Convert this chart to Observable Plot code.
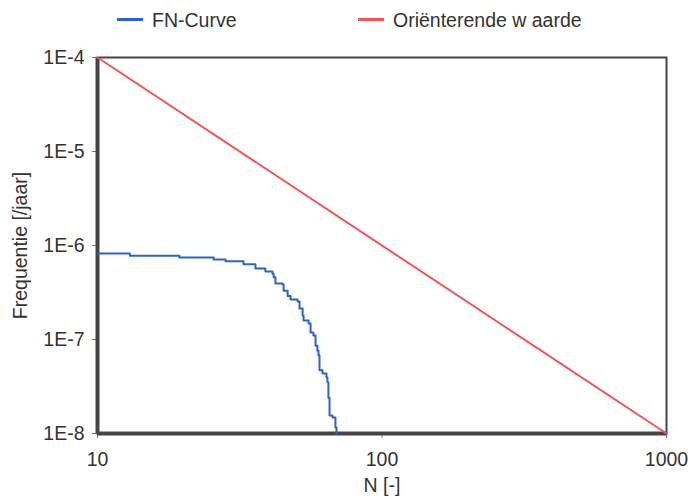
<!DOCTYPE html>
<html><head><meta charset="utf-8">
<script src="https://cdn.jsdelivr.net/npm/d3@7"></script>
<script src="https://cdn.jsdelivr.net/npm/@observablehq/plot@0.6"></script>
<style>
body{margin:0;background:#fff;font-family:"Liberation Sans",Arial,sans-serif;}
#legend{height:40px;position:relative;font-size:19.5px;color:#333;}
.sw{position:absolute;top:18px;width:26px;height:2.5px;}
.lt{position:absolute;top:8.5px;line-height:22px;white-space:nowrap;}
</style></head><body>
<div id="legend"></div><div id="chart"></div>
<script>
const seriesNames = ["FN-Curve", "Oriënterende w aarde"];
const seriesColors = ["#2d64c4", "#f05656"];
// FN curve (step points)
const fnN = [10, 13.0, 19.4, 25.6, 28.2, 32.6, 35.9, 38.9, 41.2, 41.6, 42.2, 44.7, 45.1, 46.6, 47.7, 50.5, 51.3, 52.6, 53.0, 55.2, 56.1, 57.4, 58.4, 59.3, 59.8, 60.3, 61.8, 63.8, 64.3, 64.8, 65.4, 67.0, 68.6, 69.2];
const fnF = [8.2e-7, 7.8e-7, 7.45e-7, 7.1e-7, 6.8e-7, 6.3e-7, 5.7e-7, 5.3e-7, 5.0e-7, 4.6e-7, 3.95e-7, 3.85e-7, 3.3e-7, 2.9e-7, 2.67e-7, 2.54e-7, 2.14e-7, 1.8e-7, 1.59e-7, 1.48e-7, 1.19e-7, 1.1e-7, 8.6e-8, 7.6e-8, 6.8e-8, 4.7e-8, 4.35e-8, 3.95e-8, 3.5e-8, 2.4e-8, 1.55e-8, 1.48e-8, 1.16e-8, 1.0e-8];
// Oriënterende waarde
const refN = [10, 1000];
const refF = [1e-4, 1e-8];
const xTicks = [10, 100, 1000];
const yTicks = [1e-4, 1e-5, 1e-6, 1e-7, 1e-8];

const fnData = fnN.map((n, i) => ({N: n, F: fnF[i]}));
const refData = refN.map((n, i) => ({N: n, F: refF[i]}));

// legend
const lg = document.getElementById("legend");
const legendPos = [117, 358];
seriesNames.forEach((name, i) => {
  const s = document.createElement("div"); s.className = "sw";
  s.style.left = legendPos[i] + "px"; s.style.background = seriesColors[i];
  const t = document.createElement("div"); t.className = "lt";
  t.style.left = (legendPos[i] + 35) + "px"; t.textContent = name;
  lg.appendChild(s); lg.appendChild(t);
});

const chart = Plot.plot({
  width: 691, height: 460,
  marginLeft: 97, marginRight: 25, marginTop: 17, marginBottom: 67,
  style: {fontFamily: "Liberation Sans, Arial, sans-serif", fontSize: "19.5px", color: "#333", background: "#fff"},
  x: {type: "log", domain: [10, 1000]},
  y: {type: "log", domain: [1e-8, 1e-4]},
  marks: [
    Plot.axisX({ticks: xTicks, tickFormat: d => String(d), tickSize: 5, tickPadding: 14, stroke: "#777",
      label: "N [-]", labelAnchor: "center", labelArrow: "none", labelOffset: 58, fontSize: 19.5}),
    Plot.axisY({ticks: yTicks, tickFormat: d => "1E" + Math.round(Math.log10(d)), tickSize: 5, tickPadding: 8, stroke: "#777",
      label: "Frequentie [/jaar]", labelAnchor: "center", labelArrow: "none", labelOffset: 84, fontSize: 19.5}),
    Plot.frame({stroke: "#444", strokeWidth: 2}),
    Plot.ruleX([10], {stroke: "#444", strokeWidth: 4}),
    Plot.ruleY([1e-8], {stroke: "#444", strokeWidth: 4}),
    Plot.line(refData, {x: "N", y: "F", stroke: seriesColors[1], strokeWidth: 2}),
    Plot.line(fnData, {x: "N", y: "F", stroke: seriesColors[0], strokeWidth: 2, curve: "step-after"})
  ]
});
document.getElementById("chart").appendChild(chart);
</script>
</body></html>
